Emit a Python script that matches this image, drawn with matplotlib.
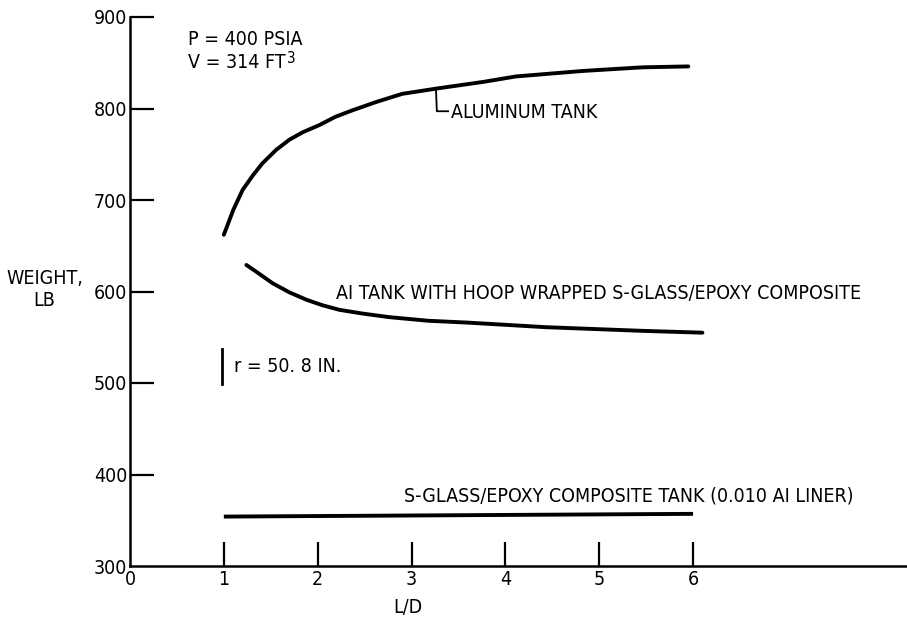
import matplotlib
matplotlib.use("Agg")
import matplotlib.pyplot as plt

plt.rcParams["font.family"] = ["DejaVu Sans"]
plt.rcParams["font.stretch"] = "condensed"

# values
al_ld = [1.0, 1.10, 1.20, 1.31, 1.41, 1.56, 1.70, 1.84, 2.02, 2.19, 2.37,
         2.62, 2.90, 3.28, 3.76, 4.11, 4.82, 5.46, 5.95]
al_w = [662, 689, 711, 727, 740, 755, 766, 774, 782, 791, 798,
        807, 816, 822, 829, 835, 841, 845, 846]

hoop_ld = [1.24, 1.34, 1.52, 1.70, 1.88, 2.05, 2.23, 2.47, 2.76, 3.18, 3.60,
           4.43, 5.46, 6.10]
hoop_w = [629, 622, 609, 599, 591, 585, 580, 576, 572, 568, 566,
          561, 557, 555]

glass_ld = [1.0, 6.0]
glass_w = [354, 357]

r_bar_ld = [0.98, 0.98]
r_bar_w = [499, 537]

x_ticks = [0, 1, 2, 3, 4, 5, 6]
y_ticks = [300, 400, 500, 600, 700, 800, 900]

fig = plt.figure(figsize=(9.07, 6.25), dpi=100)
ax = fig.add_axes([130 / 907, 59 / 625, 777 / 907, 549 / 625])

lw = 2.8
ax.plot(al_ld, al_w, color="black", lw=lw, solid_capstyle="round")
ax.plot(hoop_ld, hoop_w, color="black", lw=lw, solid_capstyle="round")
ax.plot(glass_ld, glass_w, color="black", lw=lw, solid_capstyle="butt")
ax.plot(r_bar_ld, r_bar_w, color="black", lw=2.0)

ax.set_xlim(0, 8.28)
ax.set_ylim(300, 900)
ax.spines["top"].set_visible(False)
ax.spines["right"].set_visible(False)
for s in ("left", "bottom"):
    ax.spines[s].set_linewidth(1.8)

ax.set_xticks(x_ticks)
ax.set_yticks(y_ticks)
ax.tick_params(direction="in", length=17, width=1.6, labelsize=14)
ax.tick_params(axis="y", pad=2)
ax.tick_params(axis="x", pad=3)
ax.xaxis.get_major_ticks()[0].tick1line.set_visible(False)
ax.yaxis.get_major_ticks()[0].tick1line.set_visible(False)

fs = 14
ax.text(0.62, 875, "P = 400 PSIA", fontsize=fs, va="center")
ax.text(0.62, 850, "V = 314 FT", fontsize=fs, va="center")
ax.annotate("3", xy=(0.62, 850), xytext=(71, 3), textcoords="offset points",
            fontsize=11, va="center")

ax.plot([3.26, 3.27, 3.39], [822, 797, 797], color="black", lw=1.3)
ax.text(3.42, 796, "ALUMINUM TANK", fontsize=fs, va="center")

ax.text(2.19, 598, "AI TANK WITH HOOP WRAPPED S-GLASS/EPOXY COMPOSITE",
        fontsize=fs, va="center")
ax.text(1.11, 518, "r = 50. 8 IN.", fontsize=fs, va="center")
ax.text(2.92, 376, "S-GLASS/EPOXY COMPOSITE TANK (0.010 AI LINER)",
        fontsize=fs, va="center")

ax.text(-0.91, 602, "WEIGHT,\nLB", fontsize=fs, ha="center", va="center",
        multialignment="center", clip_on=False)
ax.text(2.96, 255, "L/D", fontsize=fs, ha="center", va="center", clip_on=False)

fig.savefig("out.png", dpi=100)
